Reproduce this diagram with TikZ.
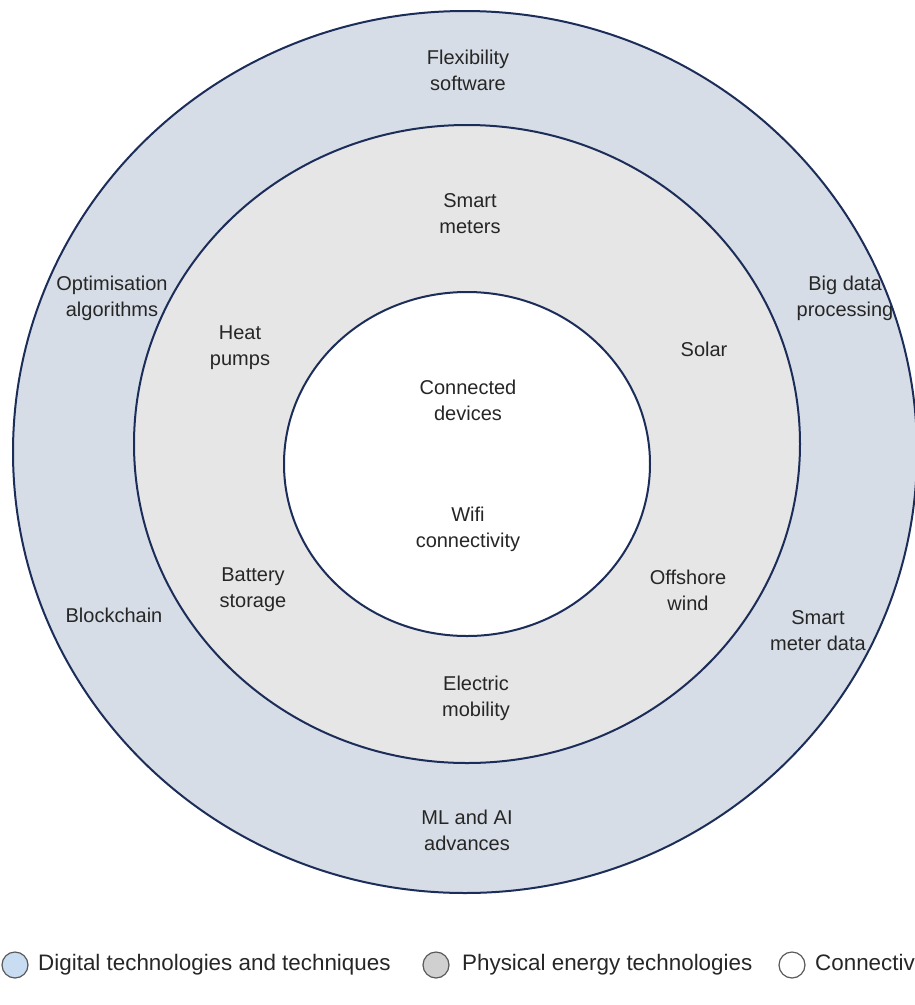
\documentclass[tikz,border=0pt]{standalone}
\usepackage{fontspec}
\setmainfont{Liberation Sans}
\definecolor{ringline}{RGB}{28,45,90}
\definecolor{digital}{RGB}{214,221,230}
\definecolor{physical}{RGB}{230,230,230}
\definecolor{legblue}{RGB}{200,220,242}
\definecolor{leggray}{RGB}{208,208,208}
\begin{document}
\begin{tikzpicture}[x=1pt,y=-1pt,
  ring/.style={draw=ringline,line width=2pt},
  lab/.style={font=\fontsize{20}{26}\selectfont,align=center,text=black!85,inner sep=0pt},
  legtxt/.style={font=\fontsize{22.4}{26}\selectfont,anchor=west,text=black!85,inner sep=0pt},
  legdot/.style={draw=black!65,line width=1.2pt}]
\useasboundingbox (0,0) rectangle (915,1005);
\clip (0,0) rectangle (915,1005);
% rings
\draw[ring,fill=digital] (465,452) ellipse [x radius=452,y radius=441];
\draw[ring,fill=physical] (467,444) ellipse [x radius=333,y radius=319];
\draw[ring,fill=white] (467,464) ellipse [x radius=183,y radius=172];
% outer ring labels
\node[lab] (flex) at (468,70) {Flexibility\\software};
\node[lab] (opt) at (112,298) {Optimisation\\algorithms};
\node[lab] (big) at (845,298) {Big data\\processing};
\node[lab] (block) at (114,615) {Blockchain};
\node[lab] (smd) at (818,631) {Smart\\meter data};
\node[lab] (ml) at (467,830) {ML and AI\\advances};
% middle ring labels
\node[lab] (sm) at (470,214) {Smart\\meters};
\node[lab] (heat) at (240,348) {Heat\\pumps};
\node[lab] (solar) at (704,349) {Solar};
\node[lab] (bat) at (253,590) {Battery\\storage};
\node[lab] (off) at (688,590) {Offshore\\wind};
\node[lab] (em) at (476,698) {Electric\\mobility};
% inner labels
\node[lab] (cd) at (468,400) {Connected\\devices};
\node[lab] (wifi) at (468,529) {Wifi\\connectivity};
% legend
\draw[legdot,fill=legblue] (15,965) circle [radius=13];
\node[legtxt] (l1) at (38,965) {Digital technologies and techniques};
\draw[legdot,fill=leggray] (436,965) circle [radius=13];
\node[legtxt] (l2) at (462,965) {Physical energy technologies};
\draw[legdot,fill=white] (792,965) circle [radius=13];
\node[legtxt] (l3) at (815,965) {Connectivity};
\end{tikzpicture}
\end{document}
